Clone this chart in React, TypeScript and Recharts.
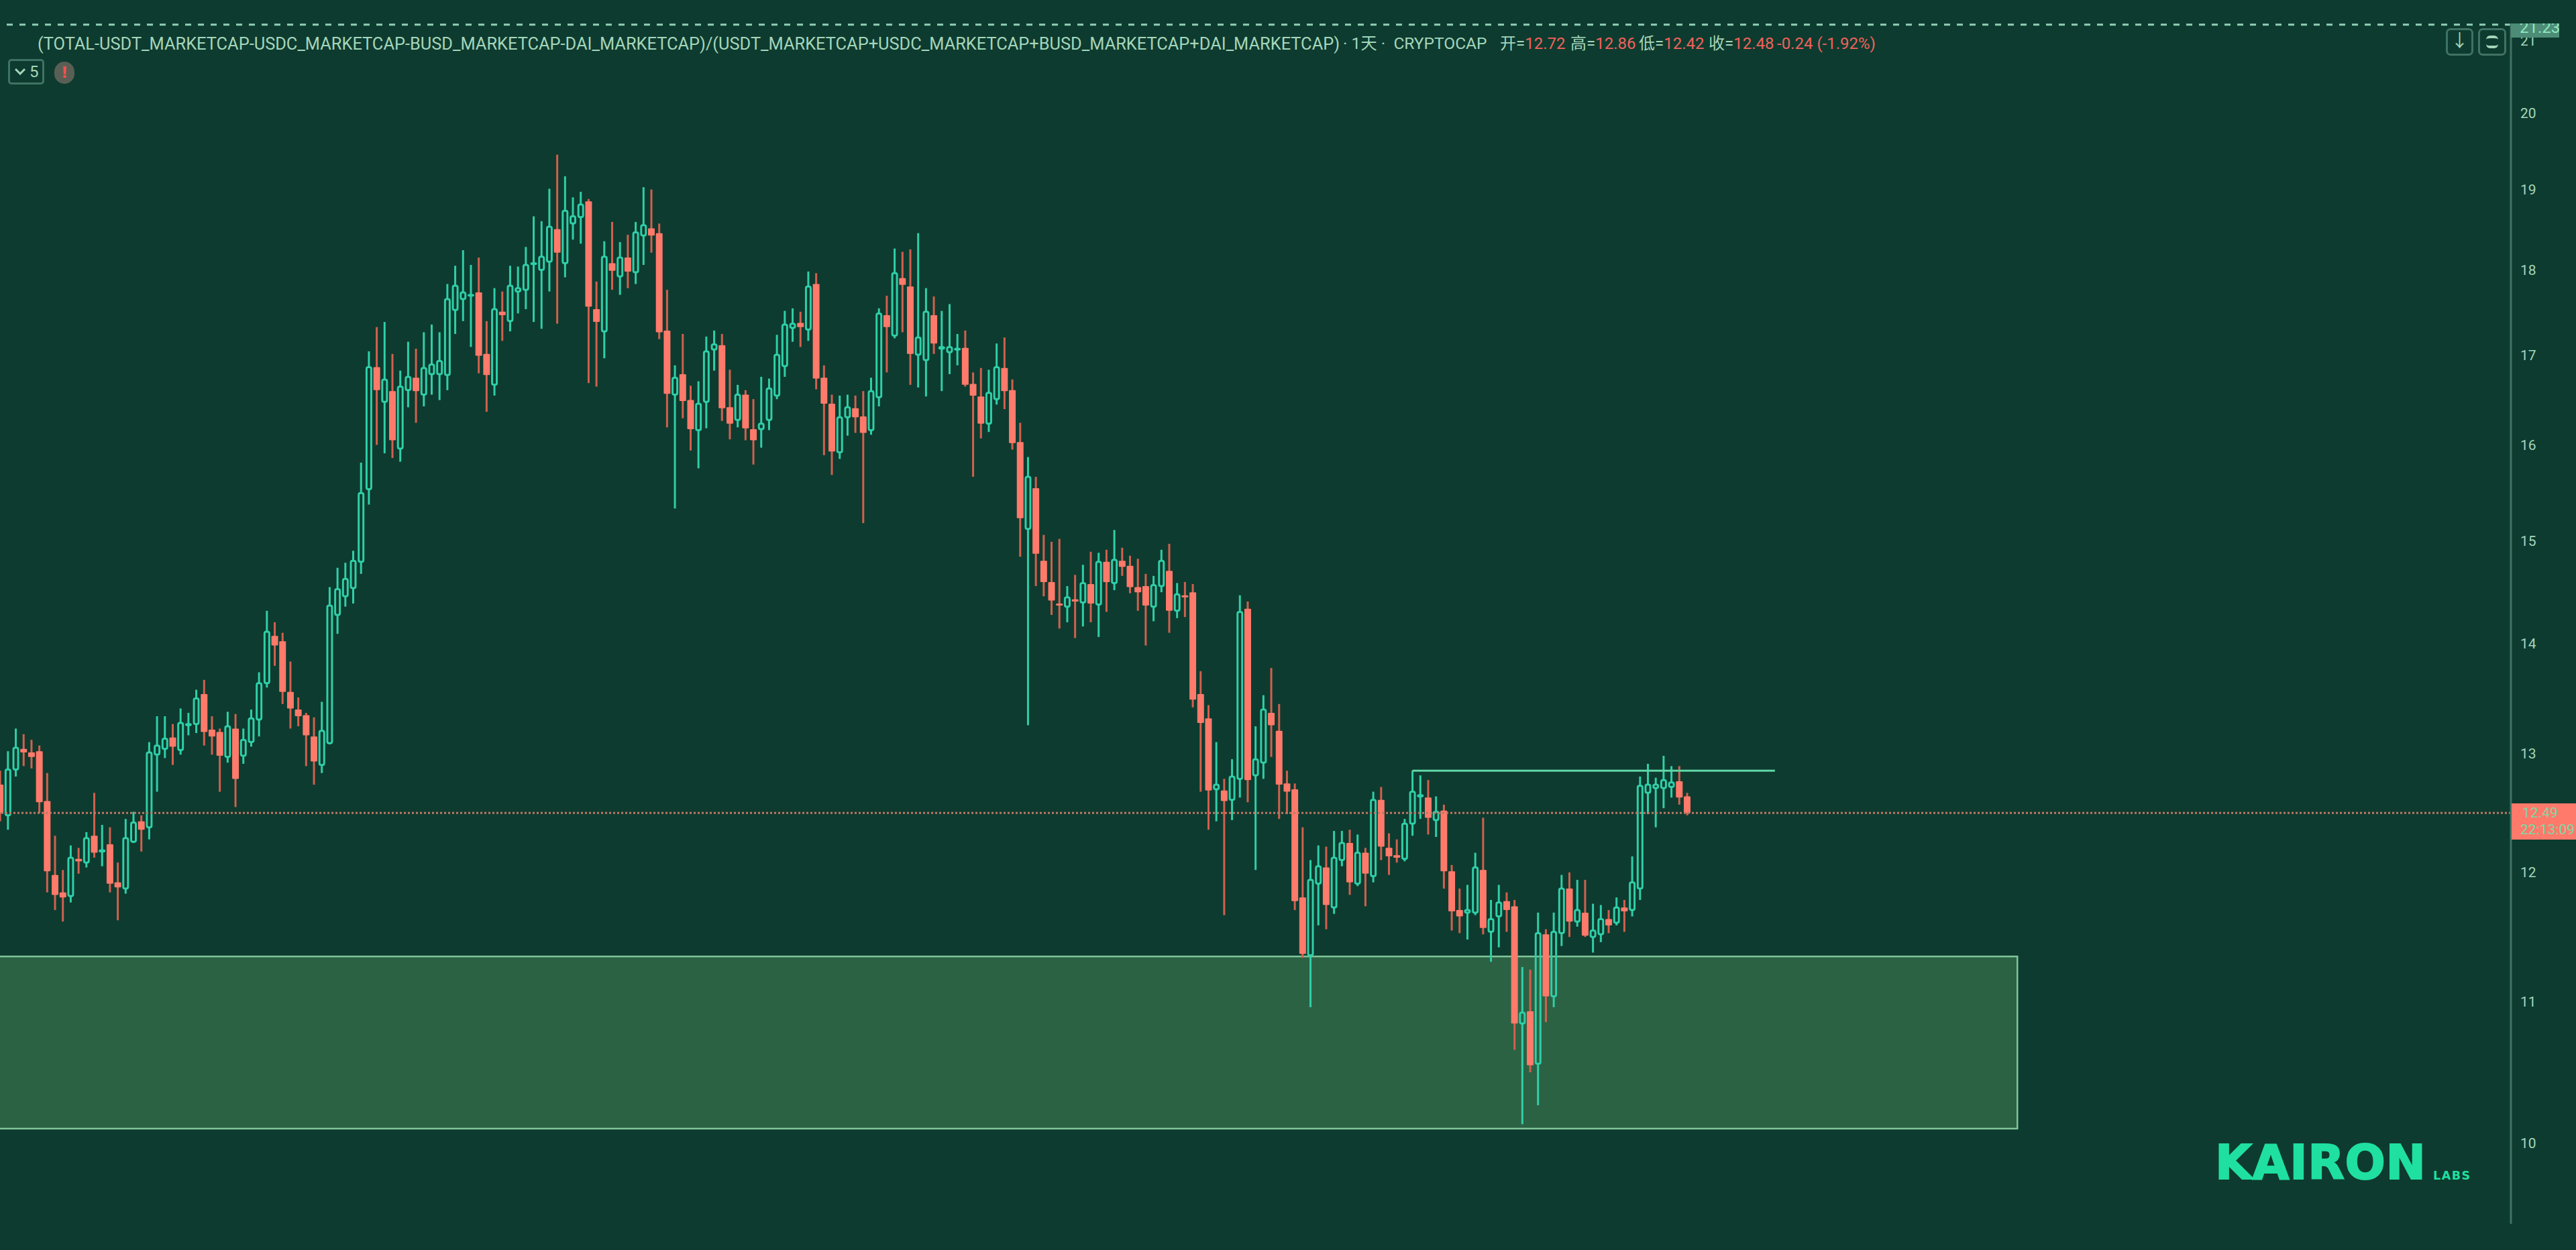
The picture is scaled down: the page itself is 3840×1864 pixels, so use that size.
import { Bar, ComposedChart, ReferenceArea, ReferenceLine, XAxis, YAxis } from "recharts";

const opens = [
  12.73,12.47,12.86,13.04,13.01,13.02,12.59,11.98,11.84,11.81,
  12.11,12.08,12.30,12.17,12.23,11.92,11.87,12.25,12.42,12.37,
  12.99,13.04,13.14,13.03,13.25,13.26,13.53,13.21,13.19,12.97,
  13.22,12.98,13.10,13.30,13.63,14.07,14.02,13.55,13.39,13.34,
  13.15,12.90,13.09,14.27,14.45,14.53,14.79,15.53,16.86,16.47,
  16.59,15.96,16.60,16.74,16.55,16.78,16.78,16.77,17.52,17.65,
  17.69,17.73,17.01,16.66,17.50,17.39,17.74,17.76,18.07,18.00,
  18.10,18.50,18.08,18.57,18.65,18.85,17.53,17.27,18.08,17.92,
  18.15,17.97,18.42,18.51,18.45,17.28,16.55,16.78,16.49,16.16,
  16.47,17.06,17.11,16.41,16.27,16.55,16.17,16.17,16.27,16.54,
  16.87,17.31,17.37,17.29,17.83,16.74,16.45,15.92,16.30,16.40,
  16.31,16.16,16.52,17.46,17.22,17.90,17.80,17.00,16.94,17.46,
  17.07,17.03,17.06,17.08,16.67,16.53,16.23,16.50,16.85,16.60,
  16.03,15.12,15.54,14.80,14.59,14.38,14.35,14.42,14.39,14.57,
  14.37,14.79,14.58,14.80,14.75,14.54,14.55,14.35,14.55,14.70,
  14.31,14.46,14.49,13.53,13.31,12.69,12.68,12.60,12.78,14.33,
  12.81,12.92,13.36,13.20,12.74,12.69,11.80,11.35,11.91,12.04,
  11.72,12.10,12.24,11.91,12.16,11.97,12.60,12.20,12.14,12.11,
  12.40,12.63,12.62,12.43,12.51,12.01,11.70,11.68,11.68,12.02,
  11.53,11.65,11.77,11.73,10.84,10.93,10.55,11.51,11.04,11.52,
  11.87,11.61,11.68,11.49,11.51,11.63,11.60,11.72,11.70,11.87,
  12.66,12.70,12.70,12.71,12.76,12.63,
];
const closes = [
  12.49,12.86,13.05,13.01,12.97,12.58,12.01,11.82,11.80,12.12,
  12.09,12.28,12.16,12.18,11.91,11.88,12.28,12.41,12.35,13.01,
  13.07,13.13,13.06,13.27,13.26,13.49,13.19,13.15,12.98,13.24,
  12.78,13.12,13.31,13.63,14.11,13.98,13.55,13.40,13.33,13.16,
  12.93,13.20,14.36,14.52,14.62,14.80,15.49,16.86,16.60,16.72,
  16.05,16.64,16.75,16.59,16.85,16.89,16.93,17.65,17.81,17.73,
  17.70,16.99,16.77,17.53,17.46,17.81,17.78,18.06,18.08,18.16,
  18.53,18.21,18.73,18.66,18.81,17.56,17.38,18.16,17.99,18.15,
  17.98,18.46,18.55,18.42,17.26,16.56,16.74,16.48,16.17,16.45,
  17.04,17.12,16.40,16.23,16.55,16.18,16.05,16.23,16.62,17.00,
  17.35,17.36,17.32,17.80,16.73,16.45,15.93,16.30,16.41,16.30,
  16.13,16.59,17.48,17.32,17.96,17.82,17.01,17.20,17.50,17.13,
  17.09,17.09,17.07,16.66,16.54,16.23,16.57,16.86,16.59,16.02,
  15.23,15.66,14.87,14.59,14.41,14.36,14.44,14.40,14.58,14.38,
  14.79,14.59,14.81,14.74,14.54,14.49,14.36,14.56,14.80,14.31,
  14.47,14.44,13.48,13.27,12.68,12.73,12.59,12.80,14.30,12.77,
  12.95,13.39,13.25,12.73,12.67,11.77,11.36,11.94,12.05,11.74,
  12.12,12.24,11.92,12.16,11.99,12.60,12.21,12.13,12.12,12.40,
  12.67,12.64,12.45,12.50,12.01,11.69,11.65,11.70,12.04,11.56,
  11.63,11.76,11.70,10.84,10.92,10.54,11.52,11.04,11.53,11.87,
  11.61,11.70,11.50,11.54,11.63,11.58,11.72,11.69,11.92,12.72,
  12.73,12.73,12.77,12.75,12.62,12.49,
];
const highs = [
  12.85,13.02,13.22,13.17,13.12,13.07,12.83,12.30,12.02,12.22,
  12.20,12.33,12.66,12.39,12.37,12.08,12.44,12.50,12.47,13.10,
  13.33,13.33,13.26,13.40,13.36,13.57,13.66,13.33,13.22,13.37,
  13.35,13.22,13.39,13.73,14.31,14.20,14.10,13.83,13.50,13.36,
  13.32,13.46,14.54,14.73,14.78,14.90,15.81,17.04,17.32,17.38,
  17.01,16.82,17.15,17.07,17.26,17.35,17.26,17.83,18.05,18.24,
  18.06,18.15,17.39,17.78,17.74,18.05,18.04,18.28,18.66,18.60,
  19.01,19.45,19.17,18.90,18.97,18.88,17.86,18.35,18.59,18.34,
  18.43,18.59,19.03,19.00,18.57,17.76,16.88,17.24,16.65,16.70,
  17.21,17.28,17.24,16.83,16.66,16.60,16.50,16.75,16.73,17.23,
  17.51,17.54,17.50,17.98,17.96,16.88,16.55,16.54,16.55,16.54,
  16.59,16.74,17.54,17.69,18.26,18.22,18.25,18.45,17.78,17.68,
  17.51,17.59,17.24,17.28,16.80,16.85,16.83,17.13,17.20,16.72,
  16.24,15.87,15.66,15.06,14.99,15.02,14.55,14.66,14.76,14.89,
  14.88,14.91,15.11,14.93,14.85,14.82,14.67,14.65,14.91,14.97,
  14.58,14.59,14.57,13.74,13.43,13.10,12.78,12.95,14.46,14.40,
  13.24,13.52,13.77,13.44,12.85,12.74,12.37,12.10,12.22,12.21,
  12.34,12.34,12.35,12.31,12.20,12.67,12.71,12.32,12.27,12.44,
  12.85,12.81,12.77,12.63,12.56,12.06,11.87,11.90,12.16,12.45,
  11.78,11.90,11.84,11.78,11.26,11.24,11.68,11.55,11.68,11.98,
  12.00,11.94,11.94,11.75,11.74,11.70,11.80,11.78,12.13,12.80,
  12.91,12.79,12.98,12.89,12.89,12.66,
];
const lows = [
  12.42,12.35,12.80,12.89,12.87,12.49,11.84,11.70,11.61,11.76,
  11.99,12.04,12.12,12.05,11.84,11.62,11.83,12.24,12.17,12.27,
  12.67,12.96,12.90,12.99,13.16,13.18,13.07,12.99,12.67,12.92,
  12.54,12.91,13.06,13.15,13.59,13.79,13.44,13.22,13.24,12.89,
  12.73,12.83,13.08,14.09,14.35,14.38,14.67,15.37,16.00,15.91,
  15.86,15.82,16.41,16.24,16.42,16.55,16.49,16.60,17.24,17.39,
  17.09,16.79,16.36,16.54,17.16,17.27,17.48,17.53,17.38,17.30,
  17.74,17.36,17.91,18.37,18.32,16.68,16.64,16.96,17.76,17.70,
  17.78,17.83,18.06,18.21,17.18,16.19,15.33,16.29,15.94,15.75,
  16.18,16.82,16.26,16.06,16.19,16.05,15.79,15.97,16.16,16.50,
  16.75,17.15,17.09,17.16,16.61,15.89,15.68,15.85,16.10,16.13,
  15.18,16.11,16.42,16.80,17.19,17.26,16.66,16.63,16.53,17.01,
  16.59,16.78,16.88,16.64,15.66,16.07,16.14,16.44,16.39,15.95,
  14.84,13.25,14.55,14.45,14.27,14.14,14.20,14.05,14.16,14.20,
  14.06,14.30,14.51,14.65,14.48,14.31,13.98,14.21,14.49,14.10,
  14.24,14.25,13.41,12.67,12.35,12.42,11.66,12.43,12.62,12.58,
  12.02,12.78,12.97,12.44,12.48,11.70,11.33,10.96,11.58,11.55,
  11.67,12.05,11.82,11.89,11.73,11.92,12.10,11.98,12.08,12.09,
  12.30,12.44,12.31,12.29,11.87,11.54,11.52,11.47,11.66,11.51,
  11.30,11.41,11.53,10.65,10.13,10.49,10.26,10.85,10.96,11.42,
  11.49,11.57,11.49,11.37,11.45,11.52,11.58,11.53,11.65,11.78,
  12.48,12.37,12.53,12.62,12.56,12.47,
];

const priceTicks = [10, 11, 12, 13, 14, 15, 16, 17, 18, 19, 20, 21];
const lastPrice = 12.49;
const highAlert = 21.23;
const resistance = 12.85;
const zoneTop = 11.34;
const zoneBottom = 10.1;

const candles = opens.map((open, i) => ({
  index: i,
  open,
  close: closes[i],
  high: highs[i],
  low: lows[i],
}));

const BG = "#0e3b2f";
const UP = "#2fcfa8";
const DOWN = "#ff7a6b";
const DOWN_WICK = "#d2604f";
const LABEL = "#a4d6bb";
const RED_TEXT = "#f0625c";
const LOGO = "#1fe0a0";

// high and low come from the axis scale, body edges are placed between them on the same log scale
function Candle(props: any) {
  const { x, y, width, height, payload } = props;
  if (!payload || !height) return null;
  const { open, close, high, low } = payload;
  const span = Math.log(high / low);
  const yOf = (v: number) => y + (height * Math.log(high / v)) / span;
  const cx = x + width / 2;
  const top = yOf(Math.max(open, close));
  const bottom = yOf(Math.min(open, close));
  if (close >= open) {
    return (
      <g>
        <line x1={cx} x2={cx} y1={y} y2={top} stroke={UP} strokeWidth={3} />
        <line x1={cx} x2={cx} y1={bottom} y2={y + height} stroke={UP} strokeWidth={3} />
        <rect x={cx - 3.5} y={top} width={7} height={bottom - top} rx={2.5} fill="none" stroke={UP} strokeWidth={3} />
      </g>
    );
  }
  return (
    <g>
      <line x1={cx} x2={cx} y1={y} y2={y + height} stroke={DOWN_WICK} strokeWidth={3} />
      <rect x={cx - 5} y={top} width={10} height={Math.max(bottom - top, 3)} rx={1} fill={DOWN} />
    </g>
  );
}

const title =
  "(TOTAL-USDT_MARKETCAP-USDC_MARKETCAP-BUSD_MARKETCAP-DAI_MARKETCAP)/(USDT_MARKETCAP+USDC_MARKETCAP+BUSD_MARKETCAP+DAI_MARKETCAP)";

const box = (left: number, top: number, width: number, height: number): React.CSSProperties => ({
  position: "absolute",
  left,
  top,
  width,
  height,
  boxSizing: "border-box",
});

export default function App() {
  return (
    <div style={{ ...box(0, 0, 3840, 1864), background: BG, overflow: "hidden", fontFamily: "Roboto, 'Noto Sans CJK SC', sans-serif" }}>
      <ComposedChart
        width={3840}
        height={1864}
        data={candles}
        margin={{ top: 35, right: 0, bottom: 39, left: 0 }}
        style={{ position: "absolute", left: 0, top: 0 }}
      >
        <XAxis dataKey="index" type="number" domain={[0, 320]} allowDataOverflow hide />
        <YAxis
          orientation="right"
          width={97}
          scale="log"
          domain={[9.473, 21.246]}
          allowDataOverflow
          ticks={priceTicks}
          interval={0}
          tickSize={0}
          tickMargin={14}
          tick={{ fill: LABEL, fontSize: 21, fontFamily: "Roboto", textAnchor: "start" }}
          axisLine={{ stroke: "#3f7363", strokeWidth: 3 }}
        />
        <ReferenceArea
          x1={-1}
          x2={257.1}
          y1={zoneTop}
          y2={zoneBottom}
          ifOverflow="visible"
          fill="#2c6244"
          fillOpacity={1}
          stroke="#7fc59a"
          strokeWidth={2.5}
        />
        <ReferenceLine y={highAlert} stroke="#8fd0b5" strokeWidth={3} strokeDasharray="9 10" />
        <ReferenceLine y={lastPrice} stroke="#bd7766" strokeWidth={3} strokeDasharray="3 3" />
        <Bar
          dataKey={(d: any) => [d.low, d.high]}
          barSize={10}
          shape={Candle}
          isAnimationActive={false}
        />
        <ReferenceLine
          segment={[
            { x: 180, y: resistance },
            { x: 226.2, y: resistance },
          ]}
          stroke="#62d6a8"
          strokeWidth={3}
        />
      </ComposedChart>

      <div style={{ position: "absolute", left: 56, top: 50, fontSize: 25.4, lineHeight: "30px", color: LABEL, whiteSpace: "nowrap" }}>
        {title}
      </div>
      <div style={{ position: "absolute", left: 2002, top: 50, fontSize: 24.5, lineHeight: "30px", color: LABEL, whiteSpace: "pre" }}>
        {"· 1天 ·  CRYPTOCAP"}
      </div>
      {[
        ["开", "12.72", 2236],
        ["高", "12.86", 2341],
        ["低", "12.42", 2443],
        ["收", "12.48", 2547],
      ].map(([name, value, left]) => (
        <div key={name as string} style={{ position: "absolute", left: left as number, top: 50, fontSize: 24, lineHeight: "30px", color: LABEL, whiteSpace: "nowrap" }}>
          {name}=<span style={{ color: RED_TEXT }}>{value}</span>
        </div>
      ))}
      <div style={{ position: "absolute", left: 2649, top: 50, fontSize: 24, lineHeight: "30px", color: RED_TEXT, whiteSpace: "nowrap" }}>
        -0.24 (-1.92%)
      </div>

      <div style={{ ...box(12, 88, 54, 38), border: "3px solid #3f7363", borderRadius: 5, color: LABEL, fontSize: 24, lineHeight: "32px", paddingLeft: 29 }}>
        <svg width={16} height={10} style={{ position: "absolute", left: 7, top: 11 }}>
          <polyline points="1,1 8,8 15,1" fill="none" stroke={LABEL} strokeWidth={3} />
        </svg>
        5
      </div>
      <div style={{ ...box(81, 92, 30, 33), borderRadius: 16, background: "#5a5f55", color: "#ff4f4f", fontSize: 24, fontWeight: 900, lineHeight: "33px", textAlign: "center" }}>
        !
      </div>

      <div style={{ ...box(3646, 42, 41, 41), border: "3px solid #3f7363", borderRadius: 7, color: LABEL, fontSize: 26, lineHeight: "33px", textAlign: "center" }}>
        ↓
      </div>
      <div style={{ ...box(3694, 42, 42, 41), border: "3px solid #3f7363", borderRadius: 7 }}>
        <div style={{ ...box(9, 8, 18, 19), borderTop: `4px solid ${LABEL}`, borderBottom: `4px solid ${LABEL}`, borderRadius: 6 }} />
      </div>

      <div style={{ ...box(3743, 35, 72, 21), background: "#4d8d78", overflow: "hidden", color: "#8fe8c0", fontSize: 24, lineHeight: "12px", paddingLeft: 13 }}>
        21.23
      </div>
      <div style={{ ...box(3744, 1198, 96, 54), background: DOWN, color: "#7fd8a5", fontSize: 21, lineHeight: "25px", paddingTop: 2 }}>
        <div style={{ paddingLeft: 16 }}>12.49</div>
        <div style={{ paddingLeft: 13 }}>22:13:09</div>
      </div>

      <div style={{ position: "absolute", left: 3302, top: 1692, fontFamily: "'DejaVu Sans'", fontWeight: 700, fontSize: 71, lineHeight: "84px", color: LOGO, WebkitTextStroke: `2px ${LOGO}`, letterSpacing: 0.6, whiteSpace: "nowrap" }}>
        KAIRON
      </div>
      <div style={{ position: "absolute", left: 3627, top: 1743, fontFamily: "'DejaVu Sans'", fontWeight: 700, fontSize: 17.5, letterSpacing: 1.5, lineHeight: "20px", color: LOGO, whiteSpace: "nowrap" }}>
        LABS
      </div>
    </div>
  );
}
